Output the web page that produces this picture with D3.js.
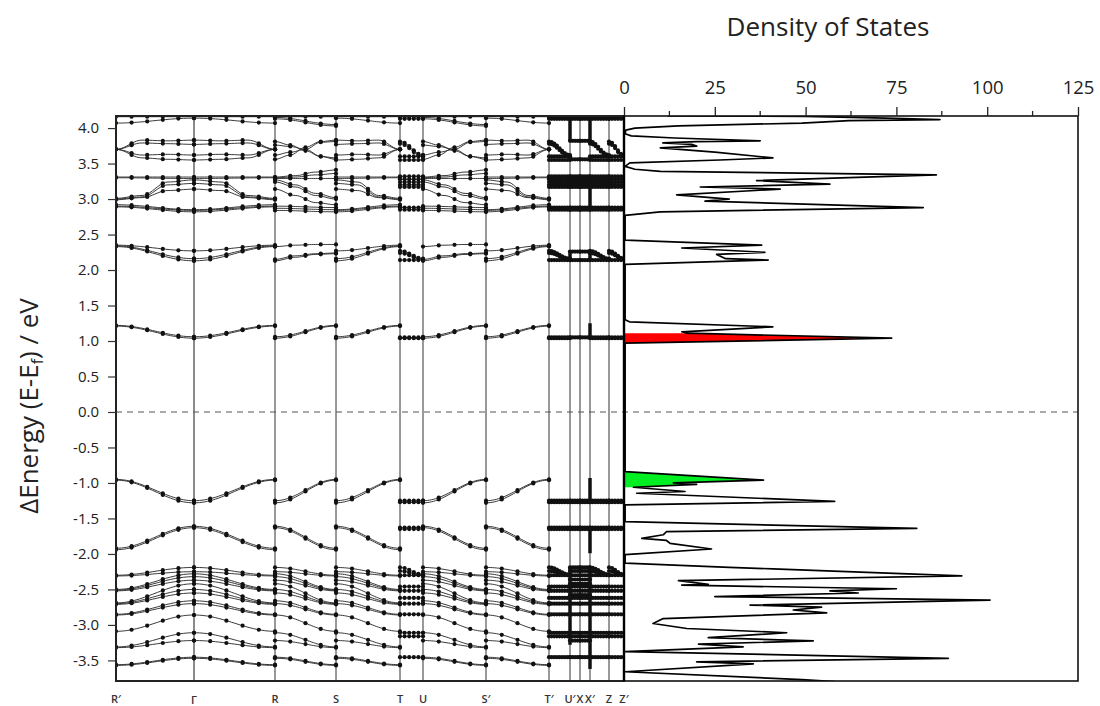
<!DOCTYPE html>
<html><head><meta charset="utf-8">
<script src="https://cdn.jsdelivr.net/npm/d3@7"></script>
<style>body{margin:0;background:#fff}svg{display:block}</style>
</head><body>
<svg id="chart" width="1100" height="706"></svg>
<script>
// ---------------- DATA ----------------
const kLabels = ["R′","Γ","R","S","T","U","S′","T′","U′","X","X′","Z","Z′"];
const kDist   = [0, 0.78, 1.59, 2.20, 2.84, 3.07, 3.70, 4.33, 4.54, 4.64, 4.74, 4.93, 5.08];
const segDots = [5, 5, 4, 4, 5, 4, 4, 8, 4, 4, 7, 5];
const energyTicks = [-3.5,-3.0,-2.5,-2.0,-1.5,-1.0,-0.5,0.0,0.5,1.0,1.5,2.0,2.5,3.0,3.5,4.0];
const dosTicks = [0,25,50,75,100,125];
const dosMinorTicks = [12.5,37.5,62.5,87.5,112.5];

// bands along R′→Γ (energies in eV at evenly spaced nodes)
const upperRG = [
  [4.16,4.16],[4.07,4.14],
  [3.70,3.83,3.82,3.83],[3.70,3.79,3.78,3.77],[3.70,3.62,3.63,3.62],[3.70,3.58,3.56,3.55],
  [3.31,3.31],[3.30,3.29],[3.01,3.05,3.24,3.27],[3.00,3.03,3.20,3.22],[2.99,3.02,3.12,3.14],
  [2.92,2.85],[2.90,2.84],[2.89,2.82],
  [2.35,2.27],[2.34,2.16],[2.33,2.13]
];
const coreRG = [
  [1.22,1.06],[1.21,1.04],
  [-0.95,-1.25],[-0.96,-1.28],
  [-1.92,-1.61],[-1.94,-1.63]
];
const lowerRG = [
  [-2.30,-2.19],[-2.31,-2.25],[-2.50,-2.28],[-2.51,-2.32],[-2.52,-2.37],
  [-2.69,-2.42],[-2.70,-2.50],[-2.71,-2.55],[-2.85,-2.66],[-2.86,-2.70],
  [-3.09,-2.86],[-3.31,-3.11],[-3.32,-3.22],[-3.56,-3.455],[-3.57,-3.47]
];
// upper bands along R→S (also U→S′)
const upperRS = [
  [4.16,4.16],[4.15,4.05],[4.13,4.03],
  [3.81,3.76,3.68,3.60,3.56],[3.56,3.62,3.73,3.81,3.83],[3.76,3.74,3.70,3.80,3.81],[3.62,3.66,3.70,3.60,3.58],
  [3.31,3.33,3.38,3.41],[3.30,3.31,3.34,3.36],[3.29,3.29],
  [3.27,3.20,3.08,3.02],[3.24,3.17,3.05,3.00],[3.14,3.05,2.95,2.92],
  [2.90,2.88],[2.87,2.85],[2.84,2.82],
  [2.33,2.35,2.36,2.36],[2.15,2.20,2.23,2.24],[2.13,2.18,2.22,2.23]
];
// short segments T→U (also T′→U′, X′→Z, Z→Z′)
const bandsTU = [
  [4.16,4.16],[4.13,4.13],
  [3.81,3.62],[3.78,3.60],[3.60,3.60],[3.55,3.55],
  [3.32,3.32],[3.28,3.28],[3.24,3.24],[3.20,3.20],[3.17,3.17],
  [2.88,2.88],[2.85,2.85],
  [2.27,2.16],[2.24,2.15],[2.14,2.14],
  [1.05,1.05],[1.04,1.04],
  [-1.25,-1.25],[-1.27,-1.27],[-1.63,-1.63],[-1.65,-1.65],
  [-2.19,-2.29],[-2.24,-2.30],[-2.30,-2.30],[-2.46,-2.46],[-2.52,-2.52],
  [-2.62,-2.62],[-2.70,-2.70],[-2.85,-2.85],[-3.11,-3.11],[-3.16,-3.16],[-3.455,-3.455]
];
// flat bundles U′→X→X′
const bandsUX = [
  [4.16,4.16],[4.13,4.13],[3.82,3.82],[3.56,3.56],
  [3.32,3.32],[3.28,3.28],[3.24,3.24],[3.20,3.20],[3.17,3.17],[2.88,2.88],[2.85,2.85],
  [2.26,2.26],[2.14,2.14],[1.05,1.05],
  [-1.25,-1.25],[-1.27,-1.27],[-1.63,-1.63],[-1.65,-1.65],
  [-2.19,-2.19],[-2.24,-2.24],[-2.30,-2.30],[-2.36,-2.36],[-2.42,-2.42],[-2.46,-2.46],
  [-2.52,-2.52],[-2.58,-2.58],[-2.62,-2.62],[-2.70,-2.70],[-2.85,-2.85],
  [-3.11,-3.11],[-3.16,-3.16],[-3.22,-3.22],[-3.455,-3.455]
];
// vertical jumps at high-symmetry points [k index, e0, e1]
const vBars = [
  [10,3.82,4.16],[10,2.85,3.33],[10,2.14,2.26],[10,1.04,1.25],[10,-0.93,-1.25],[10,-1.63,-1.99],[10,-2.18,-3.62],
  [8,3.82,4.16],[8,2.14,2.26],[8,-2.18,-3.28]
];

// density of states: [energy (eV), DOS]
const dosData = [
 [4.17,12],[4.165,50],[4.14,72],[4.12,87],[4.105,62],[4.07,49],[4.03,15],[4.00,3],[3.97,0.5],[3.92,0.3],
 [3.89,2],[3.86,14],[3.82,37.5],[3.81,20],[3.79,10.7],[3.77,18.6],[3.745,20],[3.72,10],[3.66,25],[3.58,41],
 [3.55,26.4],[3.51,1.6],[3.46,0.3],[3.42,3],[3.39,10],[3.34,86],[3.26,36.5],[3.21,56.7],[3.17,21],[3.14,43],
 [3.06,14.5],[3.00,29],[2.97,22.3],[2.88,82.4],[2.82,10],[2.77,0.3],[2.42,0.3],[2.35,37.9],[2.31,15.9],
 [2.25,38.8],[2.22,25.5],[2.16,28],[2.14,39.7],[2.08,0.3],
 [1.30,0.3],[1.27,1.5],[1.20,41],[1.13,15.9],[1.11,17.3],[1.04,73.7],[0.97,0.3],
 [-0.84,0.3],[-0.96,38.4],[-1.00,13.6],[-1.02,20],[-1.06,2.6],[-1.12,16.8],[-1.145,3.5],[-1.26,58],[-1.31,0.3],
 [-1.545,0.3],[-1.64,80.6],[-1.686,11.7],[-1.73,10.8],[-1.78,4.9],[-1.81,11.7],[-1.85,12.7],[-1.93,24.1],
 [-2.01,0.3],[-2.13,0.3],[-2.19,29],[-2.21,41],[-2.31,93],[-2.376,15],[-2.43,23.2],[-2.44,15.9],[-2.49,75],
 [-2.52,56.7],[-2.55,64.5],[-2.60,25],[-2.65,100.8],[-2.72,34.7],[-2.75,54.4],[-2.79,46.6],[-2.83,55.8],
 [-2.91,10.8],[-2.98,8],[-3.05,17.3],[-3.11,44.8],[-3.18,23.2],[-3.225,52.1],[-3.27,20.5],[-3.31,32.8],
 [-3.375,0.3],[-3.47,89.3],[-3.52,20],[-3.55,35.6],[-3.66,0.3],[-3.77,49],[-3.80,58]
];
const redRange = [0.965, 1.115];
const greenRange = [-1.065, -0.835];

// ---------------- LAYOUT ----------------
const svg = d3.select("#chart");
const topY = 116, bottomY = 681, bandL = 116, bandR = 624, dosR = 1078;
const font = "'Open Sans', 'DejaVu Sans', sans-serif";

const y = d3.scaleLinear().domain([-3.79, 4.17]).range([bottomY, topY]);
const xk = d3.scaleLinear().domain([0, kDist[kDist.length-1]]).range([bandL, bandR]);
const xd = d3.scaleLinear().domain([0, 125]).range([bandR, dosR]);

const defs = svg.append("defs");
defs.append("clipPath").attr("id","clipBand").append("rect")
  .attr("x",bandL).attr("y",topY).attr("width",bandR-bandL).attr("height",bottomY-topY);
defs.append("clipPath").attr("id","clipDos").append("rect")
  .attr("x",bandR).attr("y",topY).attr("width",dosR-bandR).attr("height",bottomY-topY);

// vertical high-symmetry lines
svg.append("g").selectAll("line").data(kDist).join("line")
  .attr("x1",d=>xk(d)).attr("x2",d=>xk(d)).attr("y1",topY).attr("y2",bottomY)
  .attr("stroke",(d,i)=> i===1 ? "#8a8a8a" : "#333")
  .attr("stroke-width",(d,i)=> i===1 ? 2 : 1);

// segments assembled
const rev = arr => arr.map(b => b.slice().reverse());
const segRG = upperRG.concat(coreRG, lowerRG);
const segGR = rev(segRG);
const segRS = upperRS.concat(rev(coreRG.concat(lowerRG)));
const segments = [segRG, segGR, segRS, segGR, bandsTU, segRS, segGR, bandsTU, bandsUX, bandsUX, bandsTU, bandsTU];

function evalBand(nodes, t){
  const n = nodes.length;
  const u = t*(n-1);
  const i = Math.min(Math.floor(u), n-2);
  const f = u - i;
  return nodes[i] + (nodes[i+1]-nodes[i]) * d3.easeSinInOut(f);
}

const gBands = svg.append("g").attr("clip-path","url(#clipBand)");
const line = d3.line().x(d=>d[0]).y(d=>d[1]);
segments.forEach((bands, s) => {
  const k0 = kDist[s], k1 = kDist[s+1];
  const nd = segDots[s];
  bands.forEach(nodes => {
    const pts = d3.range(0, 31).map(j => { const t=j/30; return [xk(k0+(k1-k0)*t), y(evalBand(nodes,t))]; });
    gBands.append("path").attr("d", line(pts)).attr("fill","none").attr("stroke","#222").attr("stroke-width",0.9);
    const dots = d3.range(0, nd+1).map(j => { const t=j/nd; return [xk(k0+(k1-k0)*t), y(evalBand(nodes,t))]; });
    gBands.selectAll(null).data(dots).join("circle")
      .attr("cx",d=>d[0]).attr("cy",d=>d[1]).attr("r",2.1).attr("fill","#111");
  });
});
// vertical jumps
vBars.forEach(([ki,e0,e1]) => {
  const x = xk(kDist[ki]);
  gBands.append("line").attr("x1",x).attr("x2",x).attr("y1",y(e0)).attr("y2",y(e1))
    .attr("stroke","#111").attr("stroke-width",3.5);
});

// zero dashed line
svg.append("line").attr("x1",bandL).attr("x2",dosR).attr("y1",y(0)).attr("y2",y(0))
  .attr("stroke","#555").attr("stroke-width",1.2).attr("stroke-dasharray","6,5");

// DOS fills
const area = d3.area().y(d=>y(d[0])).x0(xd(0)).x1(d=>xd(d[1]));
const gDos = svg.append("g").attr("clip-path","url(#clipDos)");
gDos.append("path").attr("d", area(dosData.filter(d=>d[0]>=redRange[0]&&d[0]<=redRange[1]))).attr("fill","#ff0000");
gDos.append("path").attr("d", area(dosData.filter(d=>d[0]>=greenRange[0]&&d[0]<=greenRange[1]))).attr("fill","#00ee22");
gDos.append("path").attr("d", d3.line().x(d=>xd(d[1])).y(d=>y(d[0]))(dosData))
  .attr("fill","none").attr("stroke","#000").attr("stroke-width",1.7).attr("stroke-linejoin","round");

// frames
svg.append("rect").attr("x",bandL).attr("y",topY).attr("width",bandR-bandL).attr("height",bottomY-topY)
  .attr("fill","none").attr("stroke","#222").attr("stroke-width",2);
svg.append("rect").attr("x",bandR).attr("y",topY).attr("width",dosR-bandR).attr("height",bottomY-topY)
  .attr("fill","none").attr("stroke","#111").attr("stroke-width",1.6);
svg.append("line").attr("x1",bandR).attr("x2",bandR).attr("y1",topY).attr("y2",bottomY).attr("stroke","#000").attr("stroke-width",2.4);

// y axis
const yAxis = d3.axisLeft(y).tickValues(energyTicks).tickFormat(d3.format(".1f")).tickSize(8).tickSizeOuter(0);
const gy = svg.append("g").attr("transform",`translate(${bandL},0)`).call(yAxis);
gy.select(".domain").remove();
gy.selectAll(".tick line").attr("stroke","#333").attr("stroke-width",1.2);
gy.selectAll(".tick text").attr("font-family",font).attr("font-size",15).attr("fill","#222").attr("dx",-6)
  .text(d => d3.format(".1f")(d).replace("−","-"));

// DOS top axis
const xAxis = d3.axisTop(xd).tickValues(dosTicks).tickSize(9).tickSizeOuter(0).tickPadding(13);
const gx = svg.append("g").attr("transform",`translate(0,${topY})`).call(xAxis);
gx.select(".domain").remove();
gx.selectAll(".tick line").attr("stroke","#222").attr("stroke-width",1.3);
gx.selectAll(".tick text").attr("font-family",font).attr("font-size",18.5).attr("fill","#222");
svg.append("g").selectAll("line").data(dosMinorTicks).join("line")
  .attr("x1",d=>xd(d)).attr("x2",d=>xd(d)).attr("y1",topY).attr("y2",topY-5)
  .attr("stroke","#222").attr("stroke-width",1.3);

// title
svg.append("text").attr("x",828).attr("y",36).attr("text-anchor","middle")
  .attr("font-family",font).attr("font-size",26).attr("fill","#222").text("Density of States");

// y label
const yl = svg.append("text").attr("transform","translate(38,406) rotate(-90)").attr("text-anchor","middle")
  .attr("font-family",font).attr("font-size",26).attr("fill","#222");
yl.append("tspan").text("ΔEnergy (E-E");
yl.append("tspan").attr("font-size",16).attr("dy",5).text("f");
yl.append("tspan").attr("dy",-5).text(") / eV");

// k labels
svg.append("g").selectAll("text").data(kLabels).join("text")
  .attr("x",(d,i)=>xk(kDist[i])).attr("y",(d,i)=> i===1 ? 704 : 703).attr("text-anchor","middle")
  .attr("font-family",font).attr("font-size",11).attr("font-weight",600).attr("fill","#333").text(d=>d);
</script>
</body></html>
